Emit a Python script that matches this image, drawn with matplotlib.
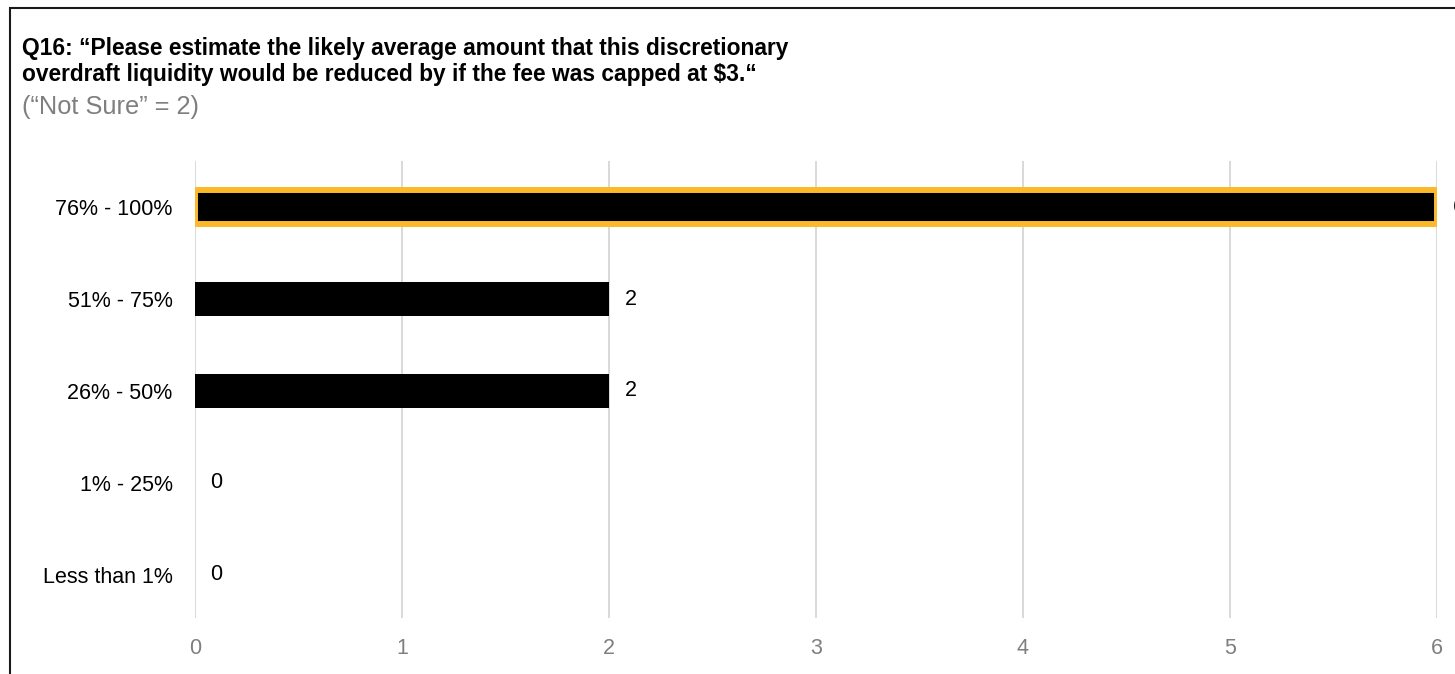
import matplotlib.pyplot as plt
from matplotlib.patches import Rectangle

plt.rcParams['font.family'] = ['Liberation Sans', 'DejaVu Sans']

categories = ["Less than 1%", "1% - 25%", "26% - 50%", "51% - 75%", "76% - 100%"]
counts = [0, 0, 2, 2, 6]
highlight = "76% - 100%"

title_lines = ["Q16: \u201cPlease estimate the likely average amount that this discretionary",
               "overdraft liquidity would be reduced by if the fee was capped at $3.\u201c"]
subtitle = "(\u201cNot Sure\u201d = 2)"

W, H = 1455, 674
fig = plt.figure(figsize=(W / 100, H / 100), dpi=100)
ax = fig.add_axes([0.134, 0.083, 0.8536, 0.678])

# frame around the slide, open to the right and bottom
fig.patches.append(Rectangle((10 / W, -0.1), 1.2, 0.988 + 0.1, transform=fig.transFigure,
                             fill=False, edgecolor='#1a1a1a', linewidth=1.5))

pos = list(range(len(categories)))
for y, cat, v in zip(pos, categories, counts):
    if cat == highlight:
        ax.barh(y, v, height=0.37, color='black', edgecolor='#FBB829', linewidth=4.3, zorder=3)
    else:
        ax.barh(y, v, height=0.37, color='black', zorder=3)
    ax.text(v + 0.075, y, str(v), va='center', ha='left', fontsize=15.5, color='black',
            clip_on=False)

ax.set_xlim(0, 6)
ax.set_ylim(-0.47, 4.5)
ax.set_yticks(pos)
ax.set_yticklabels(categories, fontsize=15.5)
ax.set_xticks(range(0, 7))
ax.tick_params(axis='x', length=0, pad=14, labelsize=15.5, labelcolor='#7f7f7f')
ax.tick_params(axis='y', length=0, pad=16)
ax.grid(axis='x', color='#d9d9d9', linewidth=1.4, zorder=0)
ax.set_axisbelow(True)
for s in ax.spines.values():
    s.set_visible(False)

for line, base in zip(title_lines, [55, 81]):
    fig.text(22 / W, 1 - base / H, line, fontsize=16.4, fontweight='bold',
             va='baseline', ha='left')
fig.text(22 / W, 1 - 114 / H, subtitle, fontsize=18.3, color='#7f7f7f',
         va='baseline', ha='left')

fig.savefig("out.png", dpi=100)
